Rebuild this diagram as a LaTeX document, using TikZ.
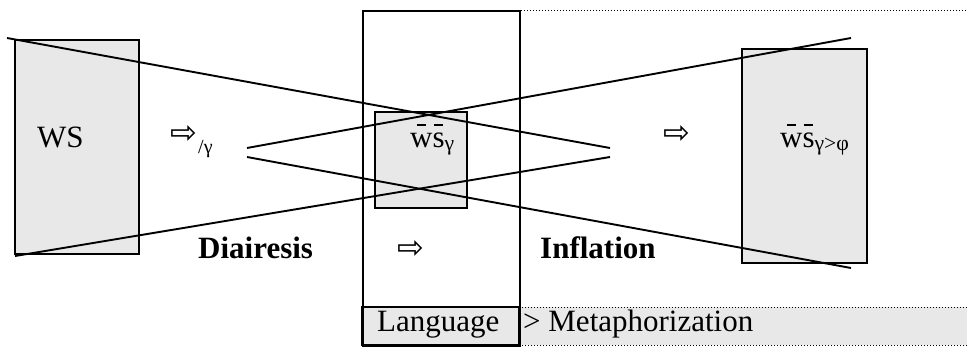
\documentclass[tikz,border=0pt]{standalone}
\usepackage{fontspec}
\setmainfont{Liberation Serif}
\newfontfamily\arrowfont{DejaVu Sans}
\definecolor{boxgrey}{RGB}{232,232,232}
\newcommand\barred[1]{\ooalign{#1\cr\hidewidth\raisebox{0.68em}{\rule{0.3em}{0.055em}}\hidewidth\cr}}

\begin{document}
\begin{tikzpicture}[x=1pt,y=-1pt,
  greybox/.style={draw,line width=2pt,fill=boxgrey,inner sep=0pt,outer sep=0pt},
  ray/.style={line width=1.9pt},
  dotrule/.style={dotted,line width=1pt},
  txt/.style={font=\fontsize{31}{36}\selectfont,inner sep=0pt,anchor=base west},
  boldtxt/.style={txt,font=\fontsize{31}{36}\selectfont\bfseries},
  wsarrow/.style={font=\arrowfont\fontsize{32}{36}\selectfont,inner sep=0pt}]
 \useasboundingbox (0,0) rectangle (967,356);
 % table in the middle and its dotted right part
 \fill[boxgrey] (519,307) rectangle (967,345);
 \node[greybox,minimum width=157,minimum height=38,anchor=north west] (lang) at (362,307) {};
 \node[draw,line width=2pt,inner sep=0pt,minimum width=157,minimum height=335,anchor=north west] (col) at (362,10) {};
 \draw[dotrule] (col.north east) -- (967,10);
 \draw[dotrule] (lang.north east) -- (967,307);
 \draw[dotrule] (lang.south east) -- (967,345);
 \draw[dotrule] (lang.north east) -- (lang.south east);
 % grey boxes
 \node[greybox,minimum width=124,minimum height=214,anchor=north west] (ws) at (15,40) {};
 \node[greybox,minimum width=92,minimum height=96,anchor=north west] (wsg) at (375,112) {};
 \node[greybox,minimum width=125,minimum height=214,anchor=north west] (wsgp) at (742,49) {};
 % the two crossing pairs of rays
 \coordinate (a1) at (7,38);   \coordinate (a2) at (610,148);
 \coordinate (b1) at (15,256); \coordinate (b2) at (610,157);
 \coordinate (c1) at (247,148); \coordinate (c2) at (851,38);
 \coordinate (d1) at (247,157); \coordinate (d2) at (851,268);
 \draw[ray] (a1) -- (a2);
 \draw[ray] (b1) -- (b2);
 \draw[ray] (c1) -- (c2);
 \draw[ray] (d1) -- (d2);
 % labels
 \node[txt] (wslbl) at (37,147) {WS};
 \node[txt] (wsglbl) at (410,147) {\barred{w}\barred{s}\textsubscript{γ}};
 \node[txt] (wsgplbl) at (780,147) {\barred{w}\barred{s}\textsubscript{γ>φ}};
 \node[boldtxt] (diair) at (198,258) {Diairesis};
 \node[boldtxt] (infl) at (540,258) {Inflation};
 \node[txt] (langlbl) at (377,331) {Language};
 \node[txt] (metlbl) at (523,331) {> Metaphorization};
 \node[wsarrow] (arr1) at (184,135) {⇨};
 \node[txt,font=\fontsize{20}{24}\selectfont] (arr1sub) at (198,153) {/γ};
 \node[wsarrow] (arr2) at (411,250) {⇨};
 \node[wsarrow] (arr3) at (677,135) {⇨};
\end{tikzpicture}
\end{document}
